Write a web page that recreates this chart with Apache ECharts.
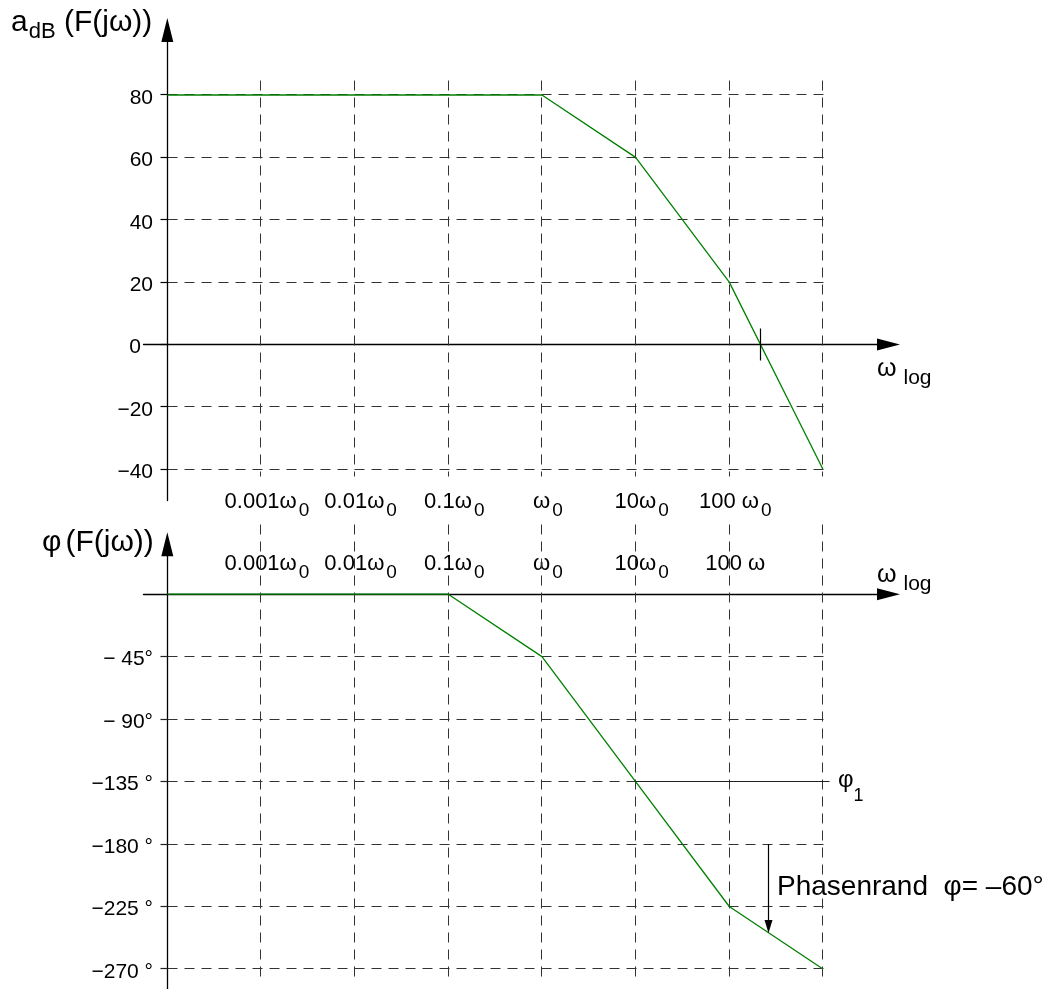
<!DOCTYPE html>
<html>
<head>
<meta charset="utf-8">
<script src="https://cdn.jsdelivr.net/npm/echarts@6/dist/echarts.min.js"></script>
<style>
html, body { margin: 0; padding: 0; background: #fff; }
#main { width: 1050px; height: 989px; }
</style>
</head>
<body>
<div id="main"></div>
<script>
// частоты везде в долях ω0
const W_LEFT = 1e-4; // где стоит ось ординат
const magW = [1e-4, 1, 10, 100, 1000];
const magDb = [80, 80, 60, 20, -40];
const phaseW = [1e-4, 0.1, 1, 10, 100, 1000];
const phaseDeg = [0, 0, -45, -135, -225, -270];

// сетка и подписи по оси частот
const gridW = [0.001, 0.01, 0.1, 1, 10, 100, 1000];
const labelW = [0.001, 0.01, 0.1, 1, 10, 100];
const magLabels = [['0.001ω', '0'], ['0.01ω', '0'], ['0.1ω', '0'], ['ω', '0'], ['10ω', '0'], ['100 ω', '0']];
const phaseLabels = [['0.001ω', '0'], ['0.01ω', '0'], ['0.1ω', '0'], ['ω', '0'], ['10ω', '0'], ['100 ω', '']];

const dbTicks = [80, 60, 40, 20, 0, -20, -40];
const dbTickLabels = ['80', '60', '40', '20', '0', '−20', '−40'];
const degTicks = [-45, -90, -135, -180, -225, -270];
const degTickLabels = ['− 45°', '− 90°', '−135 °', '−180 °', '−225 °', '−270 °'];

// пометки
const crossW = 215;                          // 0 dB
const phi1 = {w: 10, deg: -135};
const marginArrow = {w: 261, from: -180, to: -244};

const FONT = 'Liberation Sans, Arial, sans-serif';
const X_MIN = -0.254, X_MAX = 7.70, X_GRID_END = 7.075;
const TICK = 0.075; // засечки на оси ординат, ~7px

const lx = w => Math.log10(w / W_LEFT);
const snap = p => Math.round(p - 0.5) + 0.5;

let container = document.getElementById('main');
let chart = echarts.init(container);

function segments(color, width, dash) {
    return (params, api) => {
        const a = api.coord([api.value(0), api.value(1)]);
        const b = api.coord([api.value(2), api.value(3)]);
        return {
            type: 'line',
            shape: {x1: snap(a[0]), y1: snap(a[1]), x2: snap(b[0]), y2: snap(b[1])},
            style: {stroke: color, lineWidth: width, lineDash: dash}
        };
    };
}

function labelFormatter(list) {
    return v => {
        const i = labelW.findIndex(w => Math.abs(lx(w) - v) < 1e-6);
        if (i < 0) return '';
        const [m, s] = list[i];
        return s ? `{m|${m}}{s|${s}}` : `{m|${m}}`;
    };
}

const xRich = {
    m: {fontSize: 22, fontFamily: FONT, color: '#000', lineHeight: 36, padding: [0, 0, 0, 12]},
    s: {fontSize: 19, fontFamily: FONT, color: '#000', padding: [17, 0, 0, 2]}
};

const axisLineStyle = {color: '#000', width: 1.3};

function xAxisFor(gridIndex, position, margin, list) {
    return {
        gridIndex: gridIndex,
        type: 'value',
        position: position,
        min: X_MIN,
        max: X_MAX,
        axisLine: {onZero: true, symbol: ['none', 'triangle'], symbolSize: [12, 23], lineStyle: axisLineStyle},
        axisTick: {show: false},
        splitLine: {show: false},
        axisLabel: {
            customValues: labelW.map(lx),
            margin: margin,
            formatter: labelFormatter(list),
            rich: xRich
        }
    };
}

function yAxisFor(gridIndex, min, max, ticks, labels, symOffset) {
    return {
        gridIndex: gridIndex,
        type: 'value',
        min: min,
        max: max,
        axisLine: {onZero: true, symbol: ['none', 'triangle'], symbolSize: [12, 24], symbolOffset: [0, symOffset], lineStyle: axisLineStyle},
        axisTick: {show: false},
        splitLine: {show: false},
        axisLabel: {
            customValues: ticks,
            margin: -9.5,
            formatter: v => {
                const i = ticks.indexOf(v);
                if (i < 0) return '';
                return v === 0 ? '{z|0}' : `{n|${labels[i]}}`;
            },
            rich: {
                n: {fontSize: 21, fontFamily: FONT, color: '#000', padding: [6, 0, 0, 0]},
                z: {fontSize: 21, fontFamily: FONT, color: '#000', padding: [6, 12, 0, 0]}
            }
        }
    };
}

// линии сетки
const magGrid = [];
dbTicks.filter(v => v !== 0).forEach(v => magGrid.push([0, v, X_GRID_END, v]));
gridW.forEach(w => magGrid.push([lx(w), 84.8, lx(w), -42.4]));

const phaseGrid = [];
degTicks.forEach(v => phaseGrid.push([0, v, X_GRID_END, v]));
gridW.forEach(w => phaseGrid.push([lx(w), 50, lx(w), -278]));

// засечки + пометки
const magMarks = dbTicks.map(v => [-TICK, v, 0, v]);
magMarks.push([lx(crossW), 5, lx(crossW), -5]);
const phaseMarks = degTicks.map(v => [-TICK, v, 0, v]);
phaseMarks.push([lx(phi1.w), phi1.deg, X_GRID_END, phi1.deg]);

const dashStyle = [10, 7];

const option = {
    animation: false,
    textStyle: {fontFamily: FONT},
    grid: [
        {left: 143.5, width: 745, top: 32.6, height: 467.9, outerBoundsMode: 'none'},
        {left: 143.5, width: 745, top: 544.2, height: 445.6, outerBoundsMode: 'none'}
    ],
    xAxis: [
        xAxisFor(0, 'bottom', -16.5, magLabels),
        xAxisFor(1, 'top', -38, phaseLabels)
    ],
    yAxis: [
        yAxisFor(0, -50, 100, dbTicks, dbTickLabels, 2.6),
        yAxisFor(1, -285, 36, degTicks, degTickLabels, 0)
    ],
    series: [
        {
            type: 'custom', xAxisIndex: 0, yAxisIndex: 0, z: 1, silent: true,
            encode: {x: [0, 2], y: [1, 3]},
            renderItem: segments('#333', 1, dashStyle),
            data: magGrid
        },
        {
            type: 'line', xAxisIndex: 0, yAxisIndex: 0, z: 3, silent: true,
            symbol: 'none',
            lineStyle: {color: '#008000', width: 1.3},
            data: magW.map((w, i) => [lx(w), magDb[i]])
        },
        {
            type: 'custom', xAxisIndex: 0, yAxisIndex: 0, z: 4, silent: true,
            encode: {x: [0, 2], y: [1, 3]},
            renderItem: segments('#000', 1.2, null),
            data: magMarks
        },
        {
            type: 'custom', xAxisIndex: 1, yAxisIndex: 1, z: 1, silent: true,
            encode: {x: [0, 2], y: [1, 3]},
            renderItem: segments('#333', 1, dashStyle),
            data: phaseGrid
        },
        {
            type: 'line', xAxisIndex: 1, yAxisIndex: 1, z: 3, silent: true,
            symbol: 'none',
            lineStyle: {color: '#008000', width: 1.3},
            data: phaseW.map((w, i) => [lx(w), phaseDeg[i]])
        },
        {
            type: 'custom', xAxisIndex: 1, yAxisIndex: 1, z: 4, silent: true,
            encode: {x: [0, 2], y: [1, 3]},
            renderItem: segments('#222', 1.2, null),
            data: phaseMarks
        },
        {
            type: 'custom', xAxisIndex: 1, yAxisIndex: 1, z: 4, silent: true,
            encode: {x: 0, y: [1, 2]},
            renderItem: (params, api) => {
                const a = api.coord([api.value(0), api.value(1)]);
                const b = api.coord([api.value(0), api.value(2)]);
                const x = snap(a[0]);
                return {
                    type: 'group',
                    children: [
                        {type: 'line', shape: {x1: x, y1: a[1], x2: x, y2: b[1] - 10}, style: {stroke: '#000', lineWidth: 1.2}},
                        {type: 'polygon', shape: {points: [[x - 4, b[1] - 13], [x + 4, b[1] - 13], [x, b[1]]]}, style: {fill: '#000'}}
                    ]
                };
            },
            data: [[lx(marginArrow.w), marginArrow.from, marginArrow.to]]
        }
    ],
    graphic: [
        {
            type: 'text', x: 11, y: 2,
            style: {
                text: '{m|a}{s|dB}{m| (F(jω))}', fill: '#000',
                rich: {
                    m: {fontSize: 30, fontFamily: FONT, fill: '#000'},
                    s: {fontSize: 22, fontFamily: FONT, fill: '#000', padding: [19, 0, 0, 1]}
                }
            }
        },
        {
            type: 'text', x: 42, y: 528,
            style: {
                text: '{m|φ}{p|(F(jω))}', fill: '#000',
                rich: {
                    m: {fontSize: 30, fontFamily: FONT, fill: '#000'},
                    p: {fontSize: 30, fontFamily: FONT, fill: '#000', padding: [0, 0, 0, 4]}
                }
            }
        },
        {
            type: 'text', x: 877, y: 349,
            style: {
                text: '{m|ω }{s|log}', fill: '#000',
                rich: {
                    m: {fontSize: 25, fontFamily: FONT, fill: '#000'},
                    s: {fontSize: 21, fontFamily: FONT, fill: '#000', padding: [19, 0, 0, 0]}
                }
            }
        },
        {
            type: 'text', x: 877, y: 555,
            style: {
                text: '{m|ω }{s|log}', fill: '#000',
                rich: {
                    m: {fontSize: 25, fontFamily: FONT, fill: '#000'},
                    s: {fontSize: 21, fontFamily: FONT, fill: '#000', padding: [19, 0, 0, 0]}
                }
            }
        },
        {
            type: 'text', x: 838, y: 756,
            style: {
                text: '{m|φ}{s|1}', fill: '#000',
                rich: {
                    m: {fontSize: 24, fontFamily: FONT, fill: '#000'},
                    s: {fontSize: 18, fontFamily: FONT, fill: '#000', padding: [31, 0, 0, 0]}
                }
            }
        },
        {
            type: 'text', x: 777, y: 873,
            style: {text: 'Phasenrand  φ= –60°', fill: '#000', font: '28px ' + FONT}
        }
    ]
};

chart.setOption(option);
</script>
</body>
</html>
